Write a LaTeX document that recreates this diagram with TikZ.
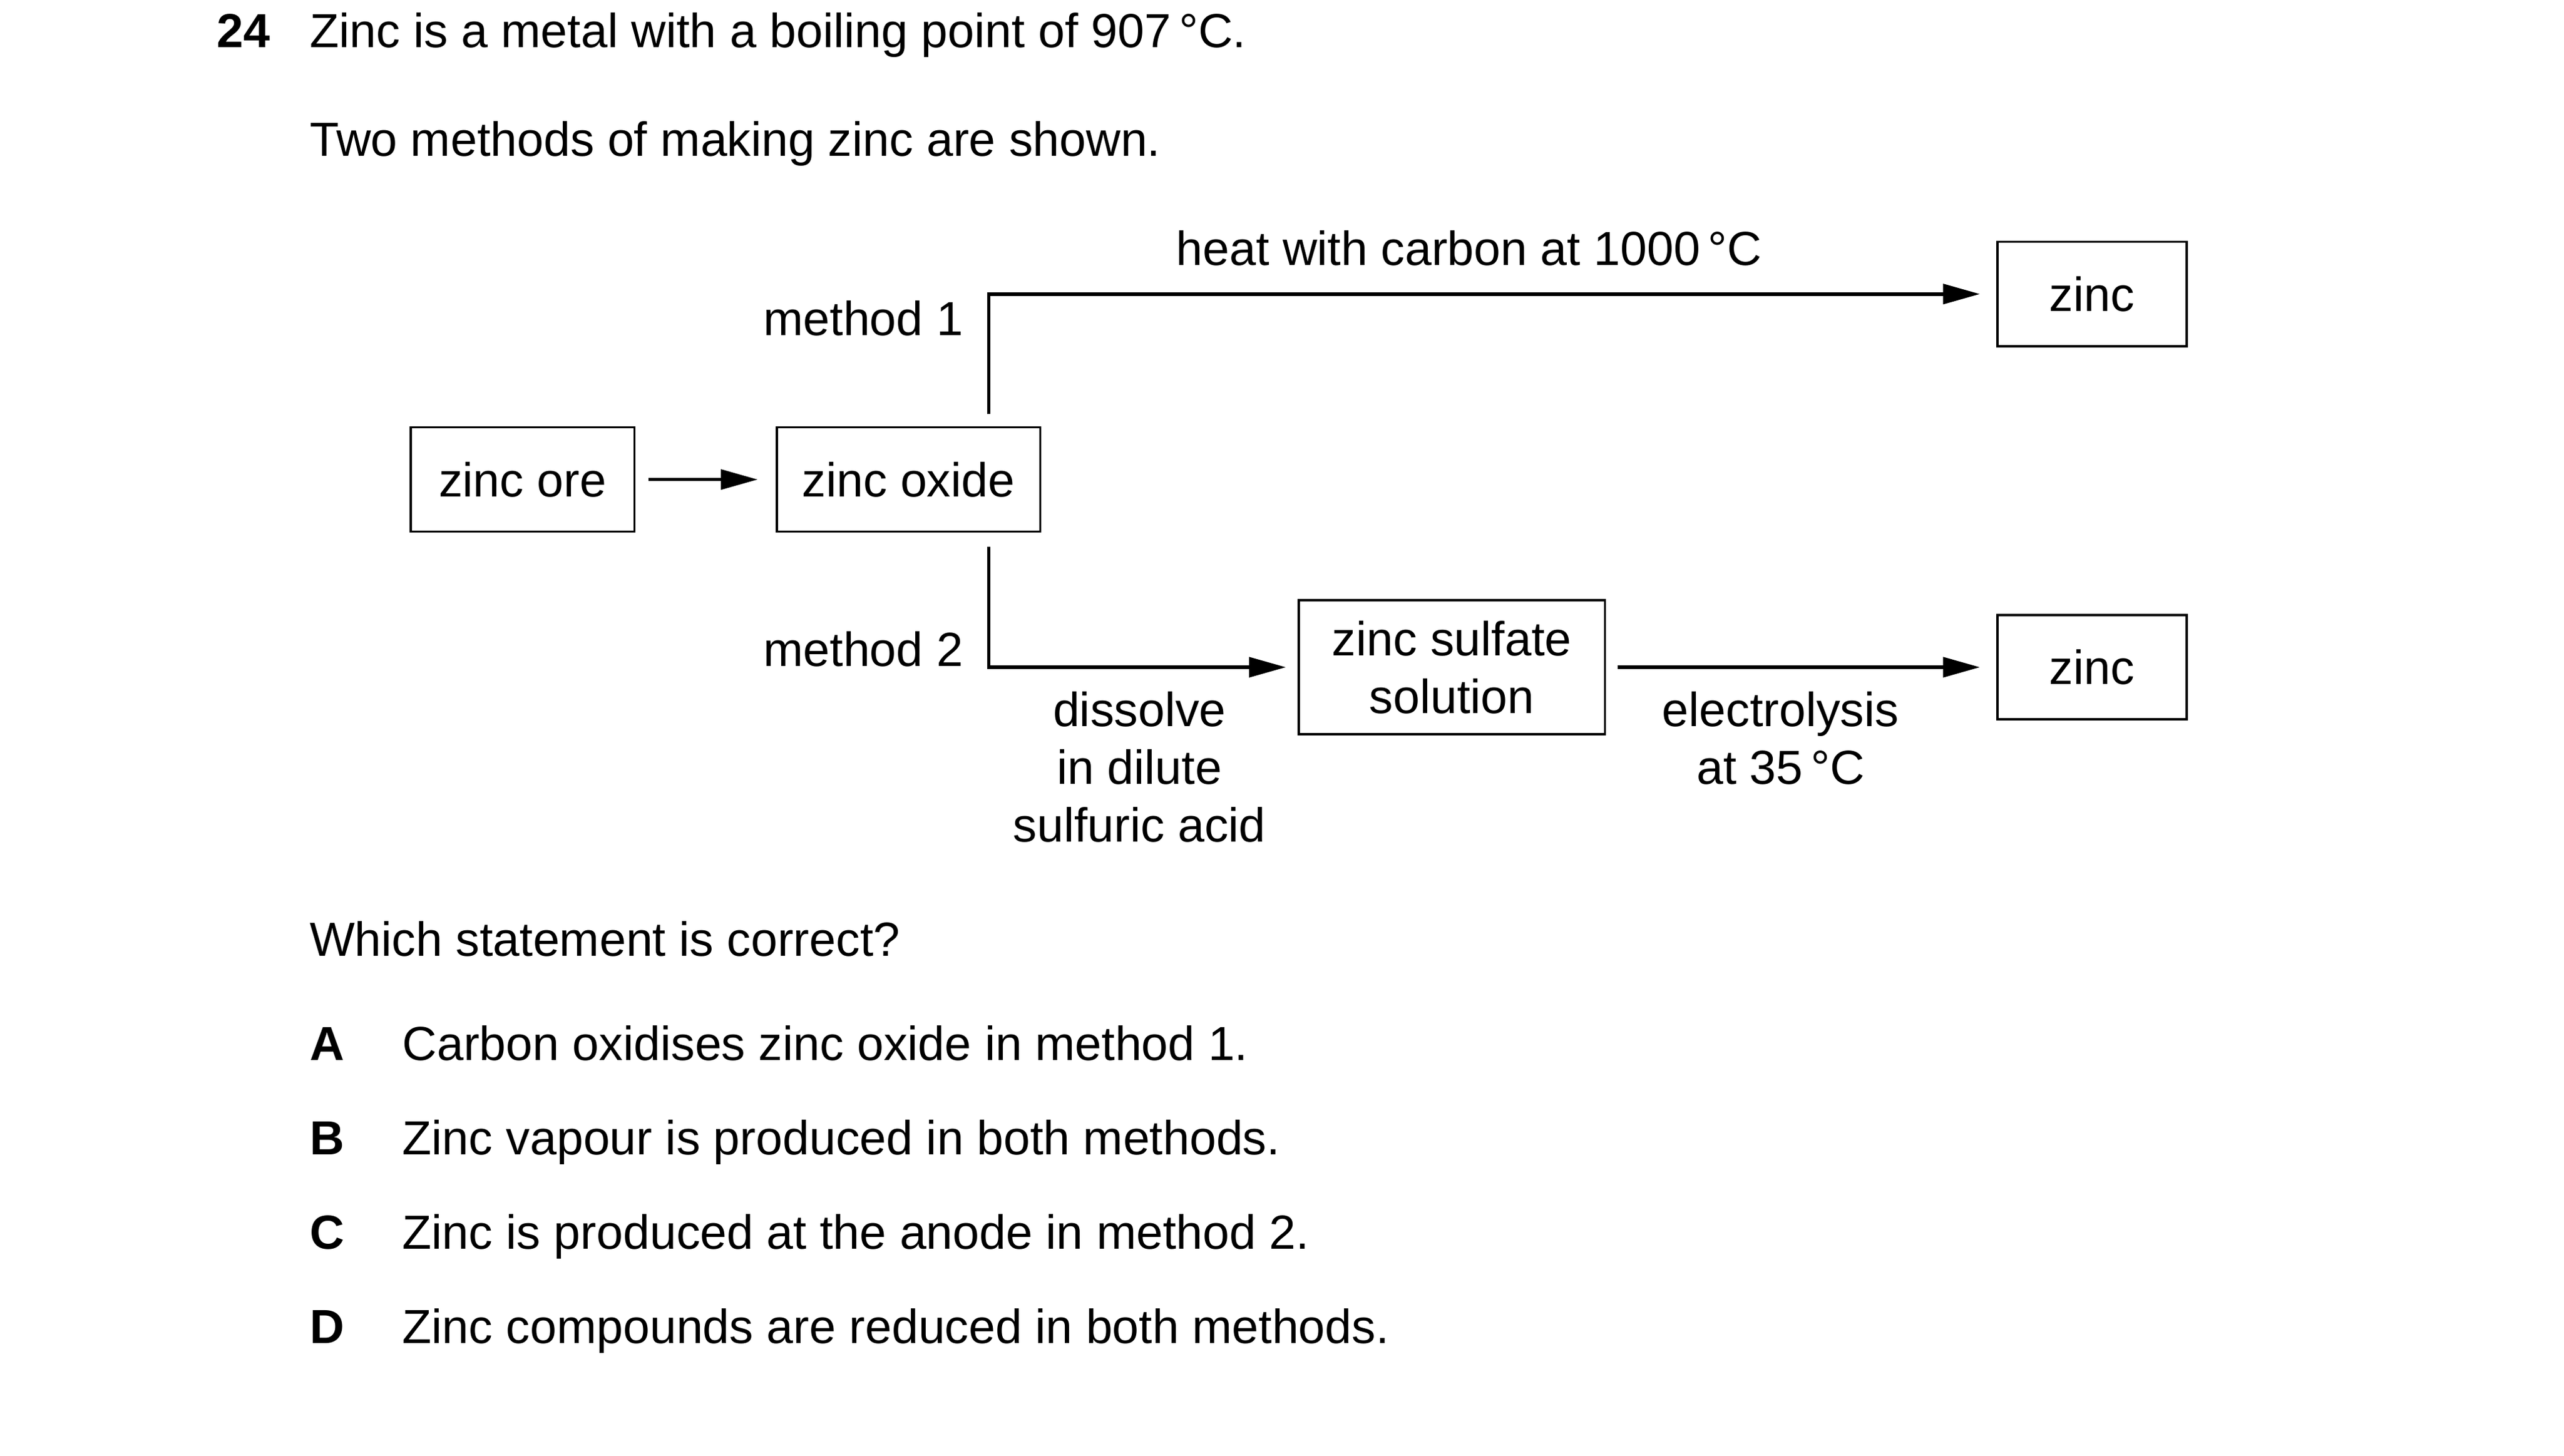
\documentclass[tikz,border=0pt]{standalone}
\usepackage{fontspec}
\setmainfont{Liberation Sans}
\usetikzlibrary{positioning,calc,arrows.meta}

\tikzset{
  txt/.style={font=\fontsize{11.15}{13.45}\selectfont, inner sep=0},
  box/.style={txt, draw, line width=0.5pt, minimum width=1.55cm, minimum height=0.855cm},
  flow/.style={line width=0.8pt, -{Triangle[length=8.6pt,width=4.6pt]}}
}

\begin{document}
\begin{tikzpicture}[scale=1.00]
\useasboundingbox (0,0) rectangle (21.0,-11.923);

\node[txt,anchor=base west,font=\fontsize{11.15}{13.45}\selectfont\bfseries] (qnum) at (1.770,-0.387) {24};
\node[txt,anchor=base west] (qline1) at (2.530,-0.387) {Zinc is a metal with a boiling point of 907\,°C.};
\node[txt,anchor=base west] (qline2) at (2.530,-1.279) {Two methods of making zinc are shown.};

\node[box,minimum width=1.831cm] (zincore)   at ( 4.280,-3.927) {zinc ore};
\node[box,minimum width=2.157cm] (zincoxide) at ( 7.441,-3.927) {zinc oxide};
\node[box]                       (zinca)     at (17.134,-2.408) {zinc};
\node[box]                       (zincb)     at (17.134,-5.464) {zinc};
\node[box,minimum width=2.510cm,minimum height=1.099cm,align=center] (sulfate) at (11.891,-5.464) {zinc sulfate\\solution};

\coordinate (m1) at (8.099,-3.392);
\coordinate (m2) at (8.099,-4.477);

\draw[flow,shorten <=3.1pt,shorten >=4.2pt] (zincore) -- (zincoxide);
\draw[flow,shorten >=3.8pt] (m1) |- (zinca);
\draw[flow,shorten >=2.7pt] (m2) |- (sulfate);
\draw[flow,shorten <=2.7pt,shorten >=3.8pt] (sulfate) -- (zincb);

\node[txt] (heat) at (12.033,-2.035) {heat with carbon at 1000\,°C};
\node[txt,anchor=east] (meth1) at (7.895,-2.605) {method 1};
\node[txt,anchor=east] (meth2) at (7.895,-5.318) {method 2};
\node[txt,align=center] (dissolve) at (9.333,-6.281) {dissolve\\in dilute\\sulfuric acid};
\node[txt,align=center] (electro) at (14.584,-6.044) {electrolysis\\at 35\,°C};

\node[txt,anchor=base west] (which) at (2.530,-7.828) {Which statement is correct?};
\foreach \lab/\yy/\ans in {A/-8.682/Carbon oxidises zinc oxide in method 1.,
                           B/-9.455/Zinc vapour is produced in both methods.,
                           C/-10.229/Zinc is produced at the anode in method 2.,
                           D/-11.002/Zinc compounds are reduced in both methods.}{
  \node[txt,anchor=base west,font=\fontsize{11.15}{13.45}\selectfont\bfseries] (key\lab) at (2.530,\yy) {\lab};
  \node[txt,anchor=base west] (opt\lab) at (3.290,\yy) {\ans};
}
\end{tikzpicture}
\end{document}
